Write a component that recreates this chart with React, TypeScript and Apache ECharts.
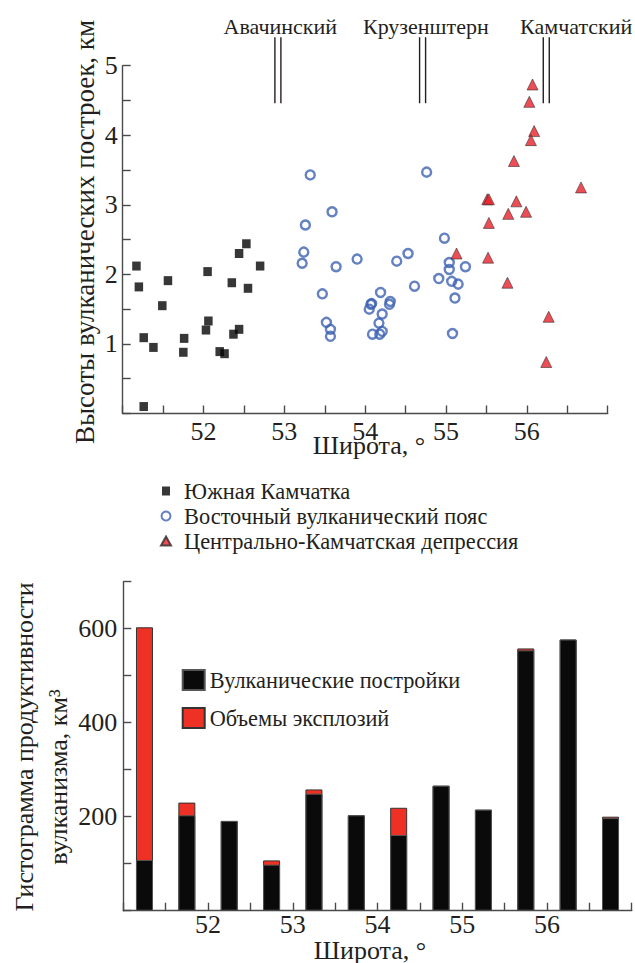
import React, { useEffect, useRef } from 'react';
import * as echarts from 'echarts';

// Heights of volcanic edifices (km) versus latitude (°N)
const southLat = [51.17, 51.2, 51.26, 51.38, 51.26, 51.49, 51.56, 51.76, 51.75, 52.05, 52.06, 52.03, 52.2, 52.26, 52.35, 52.37, 52.44, 52.44, 52.53, 52.55, 52.7];
const southH = [2.12, 1.82, 1.09, 0.95, 0.1, 1.55, 1.91, 1.08, 0.88, 2.04, 1.33, 1.2, 0.89, 0.86, 1.88, 1.14, 1.21, 2.3, 2.44, 1.8, 2.12];

const eastLat = [53.32, 53.59, 53.26, 53.24, 53.22, 53.64, 53.9, 53.47, 53.52, 53.57, 53.57, 54.19, 54.07, 54.05, 54.08, 54.21, 54.17, 54.09, 54.18, 54.21, 54.3, 54.31, 54.39, 54.53, 54.61, 54.76, 54.91, 54.98, 55.04, 55.04, 55.07, 55.15, 55.11, 55.24, 55.08];
const eastH = [3.43, 2.9, 2.71, 2.32, 2.16, 2.11, 2.22, 1.72, 1.31, 1.21, 1.11, 1.74, 1.57, 1.5, 1.58, 1.43, 1.3, 1.14, 1.14, 1.18, 1.57, 1.61, 2.19, 2.3, 1.83, 3.47, 1.94, 2.52, 2.17, 2.07, 1.9, 1.86, 1.66, 2.11, 1.15];

const centralLat = [56.07, 56.03, 56.09, 56.05, 55.84, 56.67, 55.51, 55.53, 55.87, 55.77, 55.99, 55.53, 55.52, 55.76, 56.27, 56.24, 55.13];
const centralH = [4.73, 4.48, 4.06, 3.93, 3.63, 3.25, 3.08, 3.08, 3.05, 2.87, 2.9, 2.74, 2.24, 1.88, 1.39, 0.74, 2.3];

// Reference volcanoes marked above the plot
const volcanoNames = ['Авачинский', 'Крузенштерн', 'Камчатский'];
const volcanoLat = [52.92, 54.71, 56.24];
const volcanoLabelLat = [52.95, 54.75, 56.61];

// Productivity histogram, km³ per 0.5° latitude bin
const binCenters = [51.25, 51.75, 52.25, 52.75, 53.25, 53.75, 54.25, 54.75, 55.25, 55.75, 56.25, 56.75];
const edificeVol = [108, 203, 191, 98, 249, 203, 161, 266, 215, 554, 577, 197];
const explosionVol = [495, 27, 0, 9, 9, 0, 58, 0, 0, 4, 0, 3];

const S_SOUTH = 'Южная Камчатка';
const S_EAST = 'Восточный вулканический пояс';
const S_CENTRAL = 'Центрально-Камчатская депрессия';
const S_EDIFICE = 'Вулканические постройки';
const S_EXPLOSION = 'Объемы эксплозий';

const FAMILY = "'Liberation Serif', serif";
const INK = '#231f20';
const AXIS = '#4a4a4a';

export default function App() {
  const ref = useRef<HTMLDivElement>(null);

  useEffect(() => {
    if (!ref.current) return;
    const chart = echarts.init(ref.current, null, { renderer: 'svg' });

    const axisLine = { show: true, lineStyle: { color: AXIS, width: 1.4 } };
    const axisTick = { show: true, inside: true, length: 8, lineStyle: { color: AXIS, width: 1.4 } };
    const tickFont = { fontFamily: FAMILY, fontSize: 26, color: INK };

    const latLabel = (v: number) => (Number.isInteger(v) && v > 51 && v < 57 ? String(v) : '');
    const txt = (size: number) => ({ fill: INK, font: `${size}px ${FAMILY}`, align: 'center', verticalAlign: 'middle', lineHeight: 19 });

    const option: any = {
      animation: false,
      backgroundColor: '#ffffff',
      textStyle: { fontFamily: FAMILY, color: INK },
      grid: [
        { left: 122.7, top: 65.7, width: 485, height: 347.8 },
        { left: 123.3, top: 581.7, width: 508.4, height: 329 },
      ],
      xAxis: [
        {
          type: 'value', gridIndex: 0, min: 51, max: 57, interval: 0.5,
          axisLine, axisTick, splitLine: { show: false },
          axisLabel: { ...tickFont, lineHeight: 19, margin: 8, formatter: latLabel },
        },
        {
          type: 'value', gridIndex: 1, min: 51, max: 57, interval: 0.5,
          axisLine, axisTick, splitLine: { show: false },
          axisLabel: { ...tickFont, lineHeight: 19, margin: 4, formatter: latLabel },
        },
      ],
      yAxis: [
        {
          type: 'value', gridIndex: 0, min: 0, max: 5, interval: 0.5,
          axisLine, axisTick, splitLine: { show: false },
          axisLabel: { ...tickFont, margin: 5, formatter: (v: number) => (Number.isInteger(v) && v > 0 ? String(v) : '') },
        },
        {
          type: 'value', gridIndex: 1, min: 0, max: 700, interval: 100,
          axisLine, axisTick, splitLine: { show: false },
          axisLabel: { ...tickFont, margin: 6, formatter: (v: number) => (v > 0 && v % 200 === 0 ? String(v) : '') },
        },
      ],
      legend: [
        {
          orient: 'vertical', left: 160, top: 480, padding: 0,
          itemWidth: 26, itemHeight: 9, itemGap: 3,
          textStyle: { fontFamily: FAMILY, fontSize: 22.4, color: INK },
          data: [
            { name: S_SOUTH, icon: 'path://M0,0L8,0L8,9L0,9Z' },
            { name: S_EAST, icon: 'circle' },
            { name: S_CENTRAL, icon: 'path://M5,0L10,9L0,9Z' },
          ],
          selectedMode: false,
        },
        {
          orient: 'vertical', left: 181.7, top: 669, padding: 0,
          itemWidth: 22, itemHeight: 20, itemGap: 16,
          textStyle: { fontFamily: FAMILY, fontSize: 22.3, color: INK },
          data: [
            { name: S_EDIFICE, icon: 'rect' },
            { name: S_EXPLOSION, icon: 'rect' },
          ],
          selectedMode: false,
        },
      ],
      series: [
        {
          name: S_SOUTH, type: 'scatter', xAxisIndex: 0, yAxisIndex: 0,
          symbol: 'rect', symbolSize: [8.5, 9],
          itemStyle: { color: '#050505' },
          data: southLat.map((x, i) => [x, southH[i]]),
        },
        {
          name: S_EAST, type: 'scatter', xAxisIndex: 0, yAxisIndex: 0,
          symbol: 'circle', symbolSize: 9,
          itemStyle: { color: 'rgba(255,255,255,0)', borderColor: '#3d62b3', borderWidth: 2.4 },
          data: eastLat.map((x, i) => [x, eastH[i]]),
        },
        {
          name: S_CENTRAL, type: 'scatter', xAxisIndex: 0, yAxisIndex: 0,
          symbol: 'triangle', symbolSize: [11, 11],
          itemStyle: { color: '#e8202a', borderColor: '#2a2a2a', borderWidth: 0.7 },
          data: centralLat.map((x, i) => [x, centralH[i]]),
        },
        {
          type: 'custom', xAxisIndex: 0, yAxisIndex: 0, clip: false, silent: true,
          data: volcanoLat.map((x, i) => [x, volcanoLabelLat[i]]),
          renderItem: (params: any, api: any) => {
            const x = api.coord([api.value(0), 0])[0];
            const xText = api.coord([api.value(1), 0])[0];
            const yTop = api.coord([51, 5.41])[1];
            const yBot = api.coord([51, 4.46])[1];
            const yText = api.coord([51, 5.57])[1];
            return {
              type: 'group',
              children: [
                { type: 'line', shape: { x1: x - 3, y1: yTop, x2: x - 3, y2: yBot }, style: { stroke: INK, lineWidth: 1.4 } },
                { type: 'line', shape: { x1: x + 3, y1: yTop, x2: x + 3, y2: yBot }, style: { stroke: INK, lineWidth: 1.4 } },
                {
                  type: 'text', x: xText, y: yText,
                  style: { text: volcanoNames[params.dataIndex], ...txt(22) },
                },
              ],
            };
          },
        },
        // explosion volume sits on top of the edifice volume: draw the total in red, edifices over it
        {
          name: S_EXPLOSION, type: 'bar', xAxisIndex: 1, yAxisIndex: 1, barWidth: 17, barGap: '-100%', z: 2,
          itemStyle: { color: '#ee3124', borderColor: '#333', borderWidth: 1 },
          data: binCenters.map((x, i) => [x, edificeVol[i] + explosionVol[i]]),
        },
        {
          name: S_EDIFICE, type: 'bar', xAxisIndex: 1, yAxisIndex: 1, barWidth: 17, barGap: '-100%', z: 3,
          itemStyle: { color: '#0a0a0a', borderColor: '#555', borderWidth: 1 },
          data: binCenters.map((x, i) => [x, edificeVol[i]]),
        },
      ],
      graphic: [
        {
          type: 'text', x: 85, y: 232, rotation: Math.PI / 2,
          style: { text: 'Высоты вулканических построек, км', ...txt(27) },
        },
        {
          type: 'text', x: 369, y: 445,
          style: { text: 'Широта, °', ...txt(26) },
        },
        {
          type: 'text', x: 24, y: 747, rotation: Math.PI / 2,
          style: { text: 'Гистограмма продуктивности', ...txt(26) },
        },
        {
          type: 'text', x: 58, y: 777, rotation: Math.PI / 2,
          style: { text: 'вулканизма, км³', ...txt(26) },
        },
        {
          type: 'text', x: 370, y: 950,
          style: { text: 'Широта, °', ...txt(26) },
        },
      ],
    };

    chart.setOption(option);
    return () => chart.dispose();
  }, []);

  return <div ref={ref} style={{ position: 'absolute', left: 0, top: 0, width: 635, height: 963, background: '#fff' }} />;
}
